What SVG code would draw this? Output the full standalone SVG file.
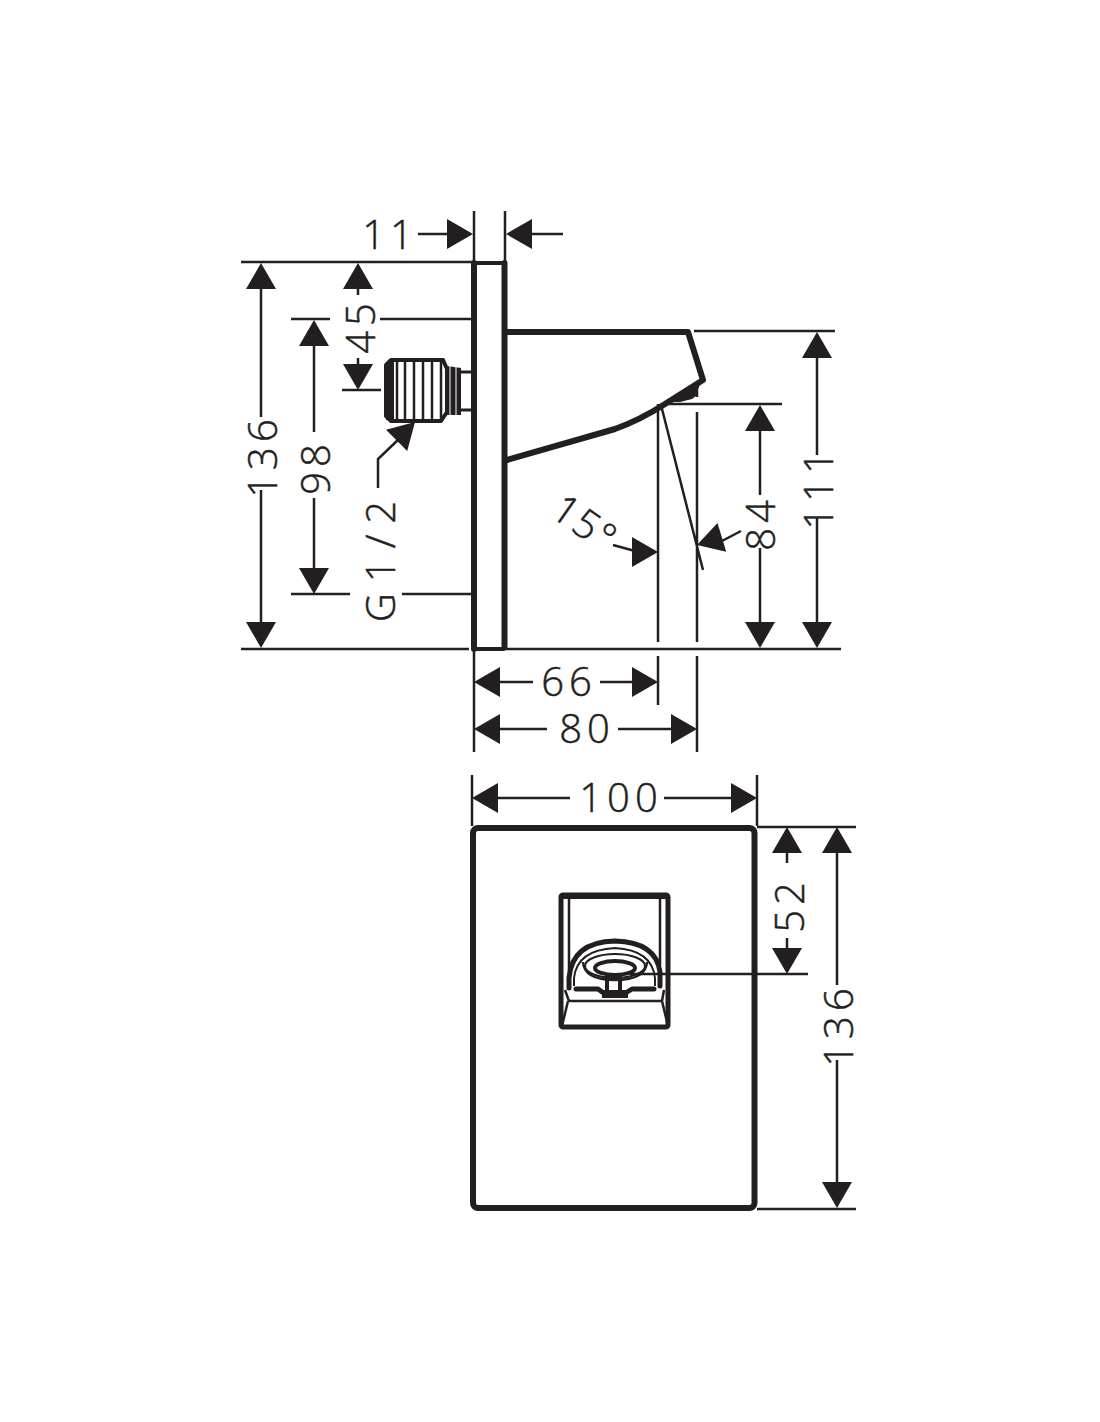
<svg xmlns="http://www.w3.org/2000/svg" width="1100" height="1422" viewBox="0 0 1100 1422">
<style>
.t{font-family:"Open Sans","Liberation Sans",sans-serif;font-size:40px;font-weight:300;fill:#231f20;stroke:#231f20;stroke-width:.5;letter-spacing:5px;text-anchor:middle}
.d{fill:none;stroke:#231f20;stroke-width:2.5}
.o{fill:none;stroke:#231f20;stroke-width:6;stroke-linejoin:round;stroke-linecap:round}
.m{fill:none;stroke:#231f20;stroke-width:2.5}
.a{fill:#231f20}
</style>
<defs>
<path id="ar" class="a" d="M0 0L-26 -15V15Z"/>
</defs>
<rect width="1100" height="1422" fill="#fff"/>
<g id="side-view">
<path class="o" d="M474 263V649M504.500 263V647" />
<path class="o" style="stroke-width:4" d="M474 263H504M474 649H504"/>
<path class="o" d="M507 332H688L703 380L665 404Q640 420 615 429L507 460"/>
<path class="a" d="M661 405L701 381L696 396L692 399L680 402H668Z"/>
<path class="o" style="stroke-width:4" d="M443 360H391L386 365V416L391 421H441L447 412V369L443 360"/>
<rect x="386" y="362" width="8" height="58" class="a"/>
<path class="m" d="M397 360V421M405 360V421M414 360V421M423 360V421M432 360V421M441 360V421"/>
<path class="a" d="M447 366L461 368V415L447 415Z"/>
<path d="M450 366V415M456 367V415" stroke="#fff" stroke-width="1" fill="none"/>
<path d="M461 372H471M461 410H471" stroke="#231f20" stroke-width="3" fill="none"/>
</g>
<g id="front-view">
<rect x="473" y="828" width="281.500" height="380" rx="5" class="o"/>
<rect x="561" y="895" width="107" height="132" rx="2" class="o" style="stroke-width:5"/>
<path d="M561 893H668V899H561Z" class="a"/>
<path class="m" d="M569 897V970M660 897V965M569 1001H662M568 1001L562 1026M662 1001L668 1026M565 990L569 1001M664 990L662 1001"/>
<path class="o" style="stroke-width:5" d="M569 988V978Q572 942 615 941Q656 942 660 972V986"/>
<path class="m" style="stroke-width:2" d="M574 986V978Q577 950 615 948Q652 950 655 978V986"/>
<path class="m" d="M583 962Q584 980 615 980Q646 980 647 962" style="stroke-width:2.500"/>
<ellipse cx="615" cy="966" rx="30" ry="12" fill="none" stroke="#231f20" stroke-width="2"/>
<ellipse cx="615" cy="968" rx="20" ry="7" fill="#fff" stroke="#231f20" stroke-width="4"/>
<path class="o" style="stroke-width:5" d="M576 989H598L605 994H624L632 989H654"/>
<path class="a" d="M605 976H609V992H605ZM618 976H622V992H618ZM602 990H628V998H602ZM605 976H622V980H605Z"/>
</g>
<g id="connectors">
<path class="d" d="M241 262H472M241 649H469M506 649H841M474 211V262M505 211V262M380 319H471M342 390H381M291 319H330M291 594H350M402 594H471M694 331H835M668 404H782M658 404V642M697 390V397M697 412V642M661 405L703 570M658 656V705M697 656V752M474 652V752M472 775V826M757 775V826M757 827H856M757 1209H856M630 974H808"/>
<path class="d" d="M418 234H450M531 234H563M261 289V417M261 490V622M358 288V295M358 358V364M314 345V432M314 498V569M817 358V455M817 517V622M760 430V495M760 548V622M499 682H533M600 682H633M499 729H547M618 729H672M497 798H570M664 798H732M787 853V863M787 938V948M837 853V985M837 1060V1183M378 488V459L400 438M613 545L635 551M722 541L741 531"/>
<use href="#ar" transform="translate(473 234)"/>
<use href="#ar" transform="translate(506 234) rotate(180)"/>
<use href="#ar" transform="translate(261 263) rotate(-90)"/>
<use href="#ar" transform="translate(261 648) rotate(90)"/>
<use href="#ar" transform="translate(358 263) rotate(-90)"/>
<use href="#ar" transform="translate(358 390) rotate(90)"/>
<use href="#ar" transform="translate(314 320) rotate(-90)"/>
<use href="#ar" transform="translate(314 594) rotate(90)"/>
<use href="#ar" transform="translate(817 332) rotate(-90)"/>
<use href="#ar" transform="translate(817 648) rotate(90)"/>
<use href="#ar" transform="translate(760 405) rotate(-90)"/>
<use href="#ar" transform="translate(760 648) rotate(90)"/>
<use href="#ar" transform="translate(474 682) rotate(180)"/>
<use href="#ar" transform="translate(658 682)"/>
<use href="#ar" transform="translate(474 729) rotate(180)"/>
<use href="#ar" transform="translate(697 729)"/>
<use href="#ar" transform="translate(472 798) rotate(180)"/>
<use href="#ar" transform="translate(757 798)"/>
<use href="#ar" transform="translate(787 827) rotate(-90)"/>
<use href="#ar" transform="translate(787 974) rotate(90)"/>
<use href="#ar" transform="translate(837 827) rotate(-90)"/>
<use href="#ar" transform="translate(837 1208) rotate(90)"/>
<use href="#ar" transform="translate(658 552)"/>
<use href="#ar" transform="translate(697 545) rotate(163)"/>
<use href="#ar" transform="translate(415 422) rotate(-45)"/>
</g>
<g id="labels">
<text class="t" x="390" y="249">11</text>
<text class="t" transform="translate(277 456) rotate(-90)">136</text>
<text class="t" transform="translate(375 326) rotate(-90)">45</text>
<text class="t" transform="translate(330 467) rotate(-90)">98</text>
<text class="t" style="letter-spacing:11px" transform="translate(395 556) rotate(-90)">G1/2</text>
<text class="t" style="letter-spacing:2px" transform="translate(577 535) rotate(35)">15°</text>
<text class="t" transform="translate(775 523) rotate(-90)">84</text>
<text class="t" transform="translate(833 488) rotate(-90)">111</text>
<text class="t" x="569" y="696">66</text>
<text class="t" x="587" y="743">80</text>
<text class="t" x="621" y="812">100</text>
<text class="t" transform="translate(804 905) rotate(-90)">52</text>
<text class="t" transform="translate(853 1025) rotate(-90)">136</text>
</g>
</svg>
